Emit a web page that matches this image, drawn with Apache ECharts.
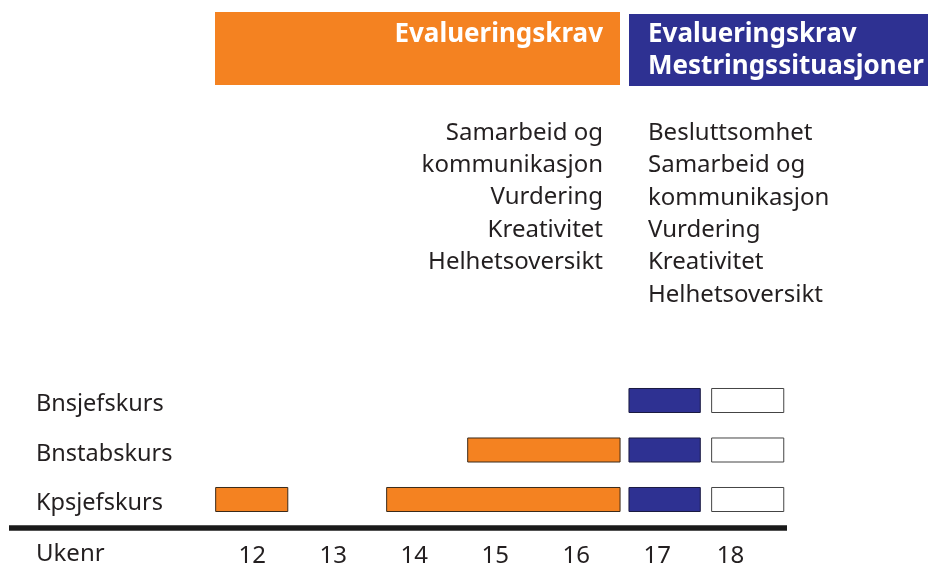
<!DOCTYPE html>
<html>
<head>
<meta charset="utf-8">
<script src="https://cdn.jsdelivr.net/npm/echarts@6/dist/echarts.min.js"></script>
<style>html,body{margin:0;padding:0;background:#fff;}#c{width:928px;height:565px;}</style>
</head>
<body>
<div id="c"></div>
<script>
// Courses (bottom to top)
const courses = ['Kpsjefskurs', 'Bnstabskurs', 'Bnsjefskurs'];
// Week tick labels
const weekTicks = [12, 13, 14, 15, 16, 17, 18];
// Bars: [courseIndex, startWeek, endWeek]
const orangeBars = [[0, 11.55, 12.44], [0, 13.66, 16.54], [1, 14.66, 16.54]];
const blueBars = [[0, 16.65, 17.53], [1, 16.65, 17.53], [2, 16.65, 17.53]];
const whiteBars = [[0, 17.67, 18.56], [1, 17.67, 18.56], [2, 17.67, 18.56]];
// Header / annotation texts
const headerOrange = 'Evalueringskrav';
const headerBlue = ['Evalueringskrav', 'Mestringssituasjoner'];
const listOrange = ['Samarbeid og', 'kommunikasjon', 'Vurdering', 'Kreativitet', 'Helhetsoversikt'];
const listBlue = ['Besluttsomhet', 'Samarbeid og', 'kommunikasjon', 'Vurdering', 'Kreativitet', 'Helhetsoversikt'];
const axisName = 'Ukenr';

const ORANGE = '#F48221';
const BLUE = '#2E3192';
const FONT = '"Noto Sans", "Open Sans", sans-serif';
const TXT = '#231F20';

function renderBar(params, api) {
  const s = api.coord([api.value(1), api.value(0)]);
  const e = api.coord([api.value(2), api.value(0)]);
  const h = api.size([0, 1])[1] * 0.485;
  return {
    type: 'rect',
    shape: { x: s[0], y: s[1] - h / 2, width: e[0] - s[0], height: h },
    style: api.style()
  };
}

function barSeries(data, fill, stroke) {
  return {
    type: 'custom',
    renderItem: renderBar,
    encode: { x: [1, 2], y: 0 },
    itemStyle: { color: fill, borderColor: stroke, borderWidth: 1 },
    data: data,
    silent: true
  };
}

const chart = echarts.init(document.getElementById('c'));
chart.setOption({
  animation: false,
  backgroundColor: '#fff',
  grid: { left: 9, right: 141, top: 375.75, bottom: 40.75, containLabel: false, outerBoundsMode: 'none' },
  xAxis: {
    type: 'value', min: 9, max: 18.6, interval: 1, offset: 3.5,
    axisLine: { show: true, lineStyle: { color: '#1a1a1a', width: 5.5, cap: 'butt' } },
    axisTick: { show: false },
    splitLine: { show: false },
    axisLabel: {
      margin: 16, fontSize: 24, fontFamily: FONT, color: TXT,
      showMaxLabel: false, showMinLabel: true,
      formatter: function (v) {
        if (weekTicks.indexOf(v) < 0) return '';
        return v === 18 ? '{s|' + v + '}' : String(v);
      },
      rich: { s: { fontSize: 24, fontFamily: FONT, color: TXT, padding: [0, 16, 0, 0] } }
    }
  },
  yAxis: {
    type: 'category', data: courses,
    axisLine: { show: false }, axisTick: { show: false }, splitLine: { show: false },
    axisLabel: {
      inside: true, margin: 27, fontSize: 23.5, fontFamily: FONT, color: TXT,
      formatter: function (v) { return '{c|' + v + '}'; },
      rich: { c: { fontSize: 23.5, fontFamily: FONT, color: TXT, padding: [8, 0, 0, 0] } }
    }
  },
  series: [
    barSeries(orangeBars, ORANGE, '#3a2a1a'),
    barSeries(blueBars, BLUE, '#1a1a40'),
    barSeries(whiteBars, '#ffffff', '#444')
  ],
  graphic: [
    { type: 'rect', shape: { x: 215, y: 12, width: 405, height: 73 }, style: { fill: ORANGE } },
    { type: 'rect', shape: { x: 629, y: 14, width: 305, height: 72 }, style: { fill: BLUE } },
    { type: 'text', style: { text: headerOrange, x: 603, y: 35, align: 'right', verticalAlign: 'middle',
        font: 'bold 26px ' + FONT, fill: '#fff' } },
    { type: 'text', style: { text: headerBlue.join('\n'), x: 648, y: 51, align: 'left', verticalAlign: 'middle',
        font: 'bold 26px ' + FONT, fill: '#fff', lineHeight: 32 } },
    { type: 'text', style: { text: listOrange.join('\n'), x: 603, y: 197.5, align: 'right', verticalAlign: 'middle',
        font: '24px ' + FONT, fill: TXT, lineHeight: 32.3 } },
    { type: 'text', style: { text: listBlue.join('\n'), x: 648, y: 214, align: 'left', verticalAlign: 'middle',
        font: '24px ' + FONT, fill: TXT, lineHeight: 32.4 } },
    { type: 'text', style: { text: axisName, x: 36, y: 554, align: 'left', verticalAlign: 'middle',
        font: '24px ' + FONT, fill: TXT } }
  ]
});
</script>
</body>
</html>
